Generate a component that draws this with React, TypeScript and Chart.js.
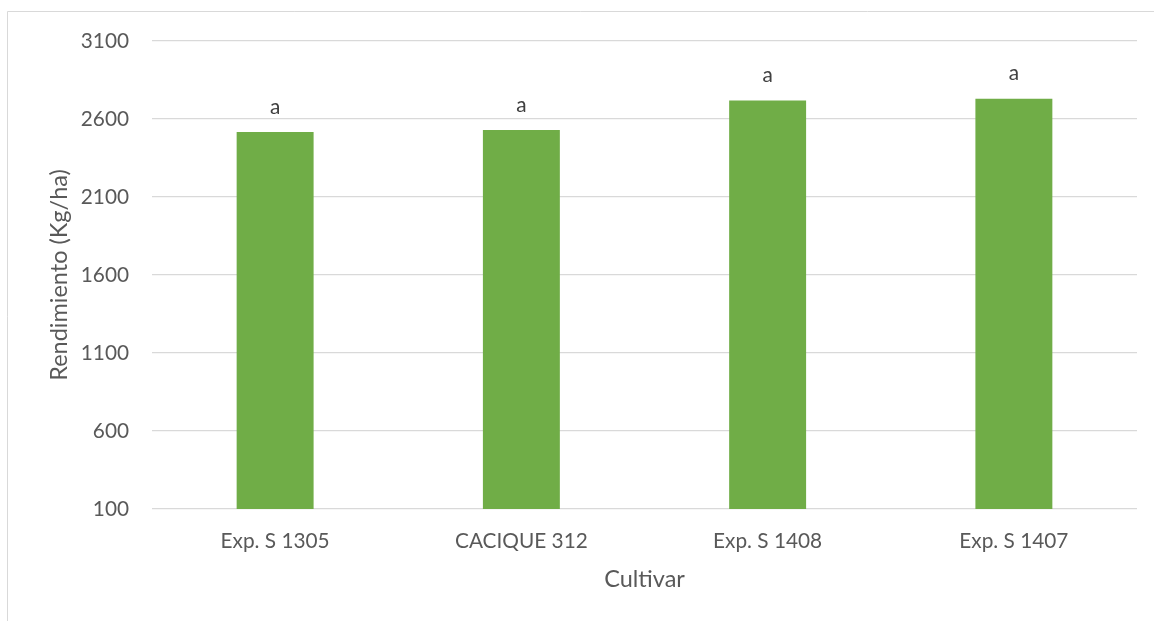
import React, { useEffect, useRef } from "react";
import { Chart, registerables } from "chart.js";

Chart.register(...registerables);

const categories = ["Exp. S 1305", "CACIQUE 312", "Exp. S 1408", "Exp. S 1407"];
const yieldValues = [2516, 2529, 2719, 2730];
const significance = ["a", "a", "a", "a"];
const yTitle = "Rendimiento (Kg/ha)";
const xTitle = "Cultivar";

const FONT = "Lato, 'Open Sans', sans-serif";

export default function App() {
  const ref = useRef<HTMLCanvasElement | null>(null);
  useEffect(() => {
    if (!ref.current) return;
    const framePlugin = {
      id: "frame",
      beforeDraw(chart: any) {
        const ctx = chart.ctx;
        ctx.save();
        ctx.fillStyle = "#ffffff";
        ctx.fillRect(0, 0, chart.width, chart.height);
        ctx.strokeStyle = "#d9d9d9";
        ctx.lineWidth = 1;
        ctx.beginPath();
        ctx.moveTo(7.5, chart.height);
        ctx.lineTo(7.5, 11.5);
        ctx.lineTo(chart.width, 11.5);
        ctx.stroke();
        ctx.restore();
      },
    };
    const labelPlugin = {
      id: "sigLabels",
      afterDatasetsDraw(chart: any) {
        const ctx = chart.ctx;
        const meta = chart.getDatasetMeta(0);
        ctx.save();
        ctx.fillStyle = "#404040";
        ctx.font = `20.8px ${FONT}`;
        ctx.textAlign = "center";
        ctx.textBaseline = "alphabetic";
        meta.data.forEach((bar: any, i: number) => {
          ctx.fillText(significance[i], bar.x, bar.y - 18.5);
        });
        ctx.restore();
      },
    };
    const chart = new Chart(ref.current, {
      type: "bar",
      data: {
        labels: categories,
        datasets: [
          {
            data: yieldValues,
            backgroundColor: "#70ad47",
            borderWidth: 0,
            barPercentage: 0.3125,
            categoryPercentage: 1,
          },
        ],
      },
      options: {
        animation: false,
        responsive: false,
        maintainAspectRatio: false,
        layout: { padding: { left: 0, right: 17, top: 41, bottom: 0 } },
        plugins: { legend: { display: false }, tooltip: { enabled: false } },
        scales: {
          x: {
            grid: { display: false, drawTicks: false },
            border: { display: false },
            ticks: { color: "#595959", font: { family: FONT, size: 20.8 }, padding: 19.5, maxRotation: 0 },
            title: {
              display: true,
              text: xTitle,
              color: "#595959",
              font: { family: FONT, size: 23.5 },
              padding: { top: 0, bottom: 27 },
            },
            afterFit(scale: any) {
              scale.height = 112;
            },
          },
          y: {
            min: 100,
            max: 3100,
            ticks: {
              stepSize: 500,
              color: "#595959",
              font: { family: FONT, size: 20.8 },
              padding: 23,
              callback: (v: any) => String(v),
            },
            grid: { color: "#d9d9d9", lineWidth: 1.3, drawTicks: false },
            border: { display: false },
            title: {
              display: true,
              text: yTitle,
              color: "#595959",
              font: { family: FONT, size: 23.5 },
              padding: { top: 45, bottom: 0 },
            },
            afterFit(scale: any) {
              scale.width = 152;
            },
          },
        },
      },
      plugins: [framePlugin, labelPlugin],
    });
    return () => chart.destroy();
  }, []);
  return (
    <div style={{ position: "absolute", left: 0, top: 0, width: 1154, height: 621 }}>
      <canvas ref={ref} width={1154} height={621} style={{ width: 1154, height: 621, display: "block" }} />
    </div>
  );
}
